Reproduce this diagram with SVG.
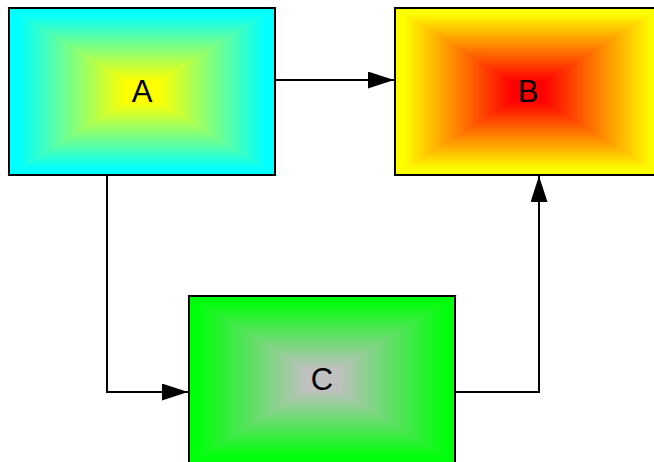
<svg xmlns="http://www.w3.org/2000/svg" width="654" height="462" viewBox="0 0 654 462">
  <style>
    .border { fill: none; stroke: #000; stroke-width: 2; }
    .label { font-family: "Liberation Sans", Arial, sans-serif; font-size: 31px; fill: #000; text-anchor: middle; }
    .edge { fill: none; stroke: #000; stroke-width: 2; }
    .tb { stroke-width: 1.2; stroke-linejoin: miter; }
  </style>
  <defs>
    <linearGradient id="aT" x1="0" y1="0" x2="0" y2="1"><stop offset="0.07" stop-color="#00ffff"/><stop offset="0.88" stop-color="#ffff00"/></linearGradient>
    <linearGradient id="aB" x1="0" y1="1" x2="0" y2="0"><stop offset="0.07" stop-color="#00ffff"/><stop offset="0.88" stop-color="#ffff00"/></linearGradient>
    <linearGradient id="aL" x1="0" y1="0" x2="1" y2="0"><stop offset="0.07" stop-color="#00ffff"/><stop offset="0.88" stop-color="#ffff00"/></linearGradient>
    <linearGradient id="aR" x1="1" y1="0" x2="0" y2="0"><stop offset="0.07" stop-color="#00ffff"/><stop offset="0.88" stop-color="#ffff00"/></linearGradient>
    <linearGradient id="bT" x1="0" y1="0" x2="0" y2="1"><stop offset="0.07" stop-color="#ffff00"/><stop offset="0.88" stop-color="#ff0000"/></linearGradient>
    <linearGradient id="bB" x1="0" y1="1" x2="0" y2="0"><stop offset="0.07" stop-color="#ffff00"/><stop offset="0.88" stop-color="#ff0000"/></linearGradient>
    <linearGradient id="bL" x1="0" y1="0" x2="1" y2="0"><stop offset="0.07" stop-color="#ffff00"/><stop offset="0.88" stop-color="#ff0000"/></linearGradient>
    <linearGradient id="bR" x1="1" y1="0" x2="0" y2="0"><stop offset="0.07" stop-color="#ffff00"/><stop offset="0.88" stop-color="#ff0000"/></linearGradient>
    <linearGradient id="cT" x1="0" y1="0" x2="0" y2="1"><stop offset="0.07" stop-color="#00ff0a"/><stop offset="0.88" stop-color="#c0c0c0"/></linearGradient>
    <linearGradient id="cB" x1="0" y1="1" x2="0" y2="0"><stop offset="0.07" stop-color="#00ff0a"/><stop offset="0.88" stop-color="#c0c0c0"/></linearGradient>
    <linearGradient id="cL" x1="0" y1="0" x2="1" y2="0"><stop offset="0.07" stop-color="#00ff0a"/><stop offset="0.88" stop-color="#c0c0c0"/></linearGradient>
    <linearGradient id="cR" x1="1" y1="0" x2="0" y2="0"><stop offset="0.07" stop-color="#00ff0a"/><stop offset="0.88" stop-color="#c0c0c0"/></linearGradient>
    <marker id="arrow" markerUnits="userSpaceOnUse" markerWidth="26" markerHeight="17" refX="26" refY="8.5" orient="auto" viewBox="0 0 26 17">
      <path d="M0,0 L26,8.5 L0,17 Z" fill="#000"/>
    </marker>
  </defs>

  <g id="node-A">
    <polygon points="9,8 9,175 142,91.5" fill="url(#aL)"/>
    <polygon points="275,8 275,175 142,91.5" fill="url(#aR)"/>
    <polygon class="tb" points="9,8 275,8 142,91.5" fill="url(#aT)" stroke="url(#aT)"/>
    <polygon class="tb" points="9,175 275,175 142,91.5" fill="url(#aB)" stroke="url(#aB)"/>
    <rect class="border" x="9" y="8" width="266" height="167"/>
    <text class="label" x="142" y="102">A</text>
  </g>

  <g id="node-B">
    <polygon points="395,8 395,175 528,91.5" fill="url(#bL)"/>
    <polygon points="661,8 661,175 528,91.5" fill="url(#bR)"/>
    <polygon class="tb" points="395,8 661,8 528,91.5" fill="url(#bT)" stroke="url(#bT)"/>
    <polygon class="tb" points="395,175 661,175 528,91.5" fill="url(#bB)" stroke="url(#bB)"/>
    <rect class="border" x="395" y="8" width="266" height="167"/>
    <text class="label" x="528" y="102">B</text>
  </g>

  <g id="node-C">
    <polygon points="189,296 189,463 322,379.5" fill="url(#cL)"/>
    <polygon points="455,296 455,463 322,379.5" fill="url(#cR)"/>
    <polygon class="tb" points="189,296 455,296 322,379.5" fill="url(#cT)" stroke="url(#cT)"/>
    <polygon class="tb" points="189,463 455,463 322,379.5" fill="url(#cB)" stroke="url(#cB)"/>
    <rect class="border" x="189" y="296" width="266" height="167"/>
    <text class="label" x="322" y="390">C</text>
  </g>

  <g id="connectors">
    <path class="edge" d="M276,80 H394" marker-end="url(#arrow)"/>
    <path class="edge" d="M107,176 V392 H188" marker-end="url(#arrow)"/>
    <path class="edge" d="M456,392 H539 V176" marker-end="url(#arrow)"/>
  </g>
</svg>
